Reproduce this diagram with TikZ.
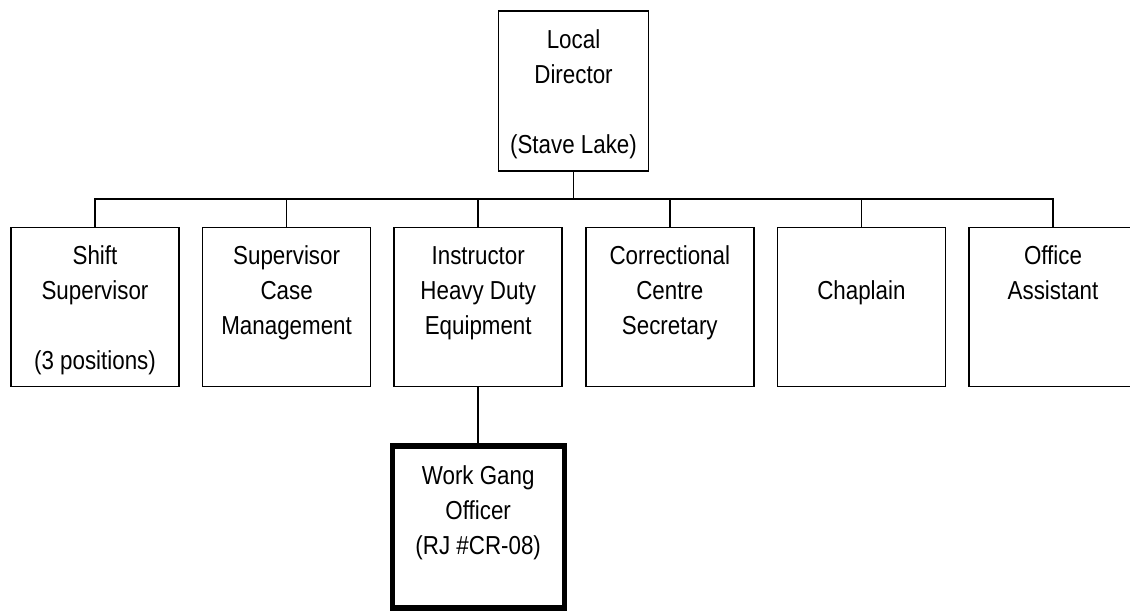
\documentclass[tikz,border=0pt]{standalone}
\usepackage{fontspec}
\setmainfont{Liberation Sans}[FakeStretch=0.86]
\newcommand{\orgtext}[4]{\parbox[c][#2][t]{#1}{\centering\fontsize{19.5pt}{26.25pt}\selectfont\rule{0pt}{#3}#4}}
\tikzset{
  orgbox/.style={draw, line width=1.25pt, inner sep=0pt, outer sep=0pt},
  heavybox/.style={draw, line width=4pt, inner sep=0pt, outer sep=0pt},
  link/.style={draw, line width=1.25pt}
}
\begin{document}
\begin{tikzpicture}[x=0.75pt, y=-0.75pt]
\useasboundingbox (0,0) rectangle (1130,611);
\clip (0,0) rectangle (1130,611);
\node[orgbox] (top) at (573.5,91) {\orgtext{112.5pt}{120pt}{28pt}{Local\\Director\\~\\(Stave Lake)}};
\node[orgbox] (b1) at (95,307) {\orgtext{126pt}{119.25pt}{28pt}{Shift\\Supervisor\\~\\(3 positions)}};
\node[orgbox] (b2) at (286.6,307) {\orgtext{126pt}{119.25pt}{28pt}{Supervisor\\Case\\Management}};
\node[orgbox] (b3) at (478.2,307) {\orgtext{126pt}{119.25pt}{28pt}{Instructor\\Heavy Duty\\Equipment}};
\node[orgbox] (b4) at (669.8,307) {\orgtext{126pt}{119.25pt}{28pt}{Correctional\\Centre\\Secretary}};
\node[orgbox] (b5) at (861.4,307) {\orgtext{126pt}{119.25pt}{28pt}{~\\Chaplain}};
\node[orgbox] (b6) at (1053,307) {\orgtext{126pt}{119.25pt}{28pt}{Office\\Assistant}};
\node[heavybox] (wg) at (478.2,527) {\orgtext{129pt}{121.5pt}{29pt}{Work Gang\\Officer\\(RJ \#CR-08)}};
\coordinate (bus) at (573.5,199);
\draw[link] (top.south) -- (bus);
\foreach \b in {b1,b2,b3,b4,b5,b6} \draw[link] (bus) -| (\b.north);
\draw[link] (b3.south) -- (wg.north);
\end{tikzpicture}
\end{document}
